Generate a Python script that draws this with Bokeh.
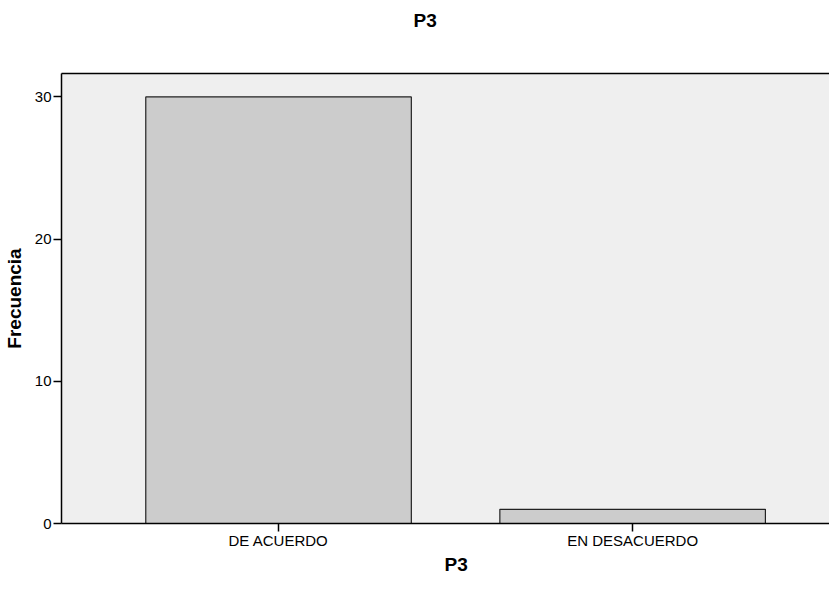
from bokeh.plotting import figure
from bokeh.models import Range1d, LinearAxis, FixedTicker, Title, CustomJSTickFormatter
from bokeh.embed import file_html
from bokeh.resources import INLINE

categories = ["DE ACUERDO", "EN DESACUERDO"]
counts = [30, 1]
y_ticks = [0, 10, 20, 30]

xpos = list(range(len(categories)))

FONT = "Liberation Sans"

p = figure(width=829, height=574, output_backend="svg", toolbar_location=None,
           x_range=Range1d(-0.613, 1.556), y_range=Range1d(0, 31.65),
           min_border_left=53, min_border_right=0, min_border_top=10, min_border_bottom=10)

p.border_fill_color = "white"
p.outline_line_color = None
p.xgrid.visible = False
p.ygrid.visible = False
p.background_fill_color = "#EFEFEF"

p.vbar(x=xpos, top=counts, width=0.75, bottom=0, fill_color="#CCCCCC",
       line_color="#222222", line_width=1.2)

# x axis
xa = p.xaxis[0]
xa.ticker = FixedTicker(ticks=xpos)
xa.major_label_overrides = {i: c for i, c in zip(xpos, categories)}
xa.minor_tick_line_color = None
xa.major_tick_out = 8
xa.major_tick_in = 0
xa.axis_line_color = "black"
xa.axis_line_width = 1.5
xa.major_tick_line_color = "black"
xa.major_tick_line_width = 1.5
xa.major_label_text_font = FONT
xa.major_label_text_font_size = "15px"
xa.major_label_text_color = "black"
xa.major_label_standoff = 0

# y axis
ya = p.yaxis[0]
ya.ticker = FixedTicker(ticks=y_ticks)
ya.minor_tick_line_color = None
ya.major_tick_out = 8
ya.major_tick_in = 0
ya.axis_line_color = "black"
ya.axis_line_width = 1.5
ya.major_tick_line_color = "black"
ya.major_tick_line_width = 1.5
ya.major_label_text_font = FONT
ya.major_label_text_font_size = "15px"
ya.major_label_text_color = "black"
ya.major_label_standoff = 2
ya.axis_label = "Frecuencia"
ya.axis_label_text_font = FONT
ya.axis_label_text_font_size = "19px"
ya.axis_label_text_font_style = "bold"
ya.axis_label_text_color = "black"
ya.axis_label_standoff = 7

# top border: a bare axis whose (white, unlabeled) ticks leave room under the title
top = LinearAxis(ticker=FixedTicker(ticks=xpos),
                 formatter=CustomJSTickFormatter(code="return ''"),
                 major_label_text_font_size="1px", major_label_standoff=0,
                 major_tick_line_color="white", major_tick_line_width=0.5,
                 minor_tick_line_color=None,
                 major_tick_out=36, major_tick_in=-4,
                 axis_line_color="black", axis_line_width=1.5)
p.add_layout(top, "above")

# titles
p.add_layout(Title(text="P3", align="left", offset=352, text_font=FONT,
                   text_font_size="19px", text_font_style="bold", text_color="black",
                   standoff=14), "above")
p.add_layout(Title(text="P3", align="left", offset=383, text_font=FONT,
                   text_font_size="19px", text_font_style="bold", text_color="black",
                   standoff=0), "below")

open("out.html", "w").write(file_html(p, INLINE))
